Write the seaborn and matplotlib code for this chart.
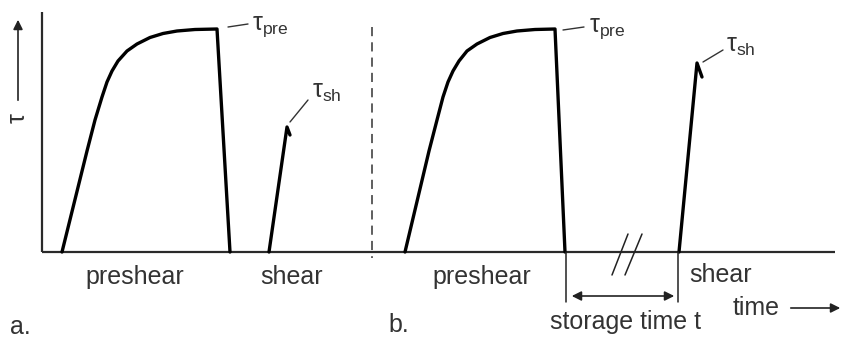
import matplotlib
matplotlib.use("Agg")
import matplotlib.pyplot as plt
import seaborn as sns
import pandas as pd

# ---- data (time axis in drawing units, tau in drawing units) ----
preshear_a_time = [62, 87, 95, 102, 107, 112, 118, 127, 137, 150, 163, 177, 195, 217, 230]
preshear_a_tau = [0, 101, 132, 155, 170, 181, 191, 201, 208, 214.5, 218.5, 221, 222.5, 223, 0]

preshear_b_time = [405, 429, 437, 443, 448, 453, 459, 467, 477, 490, 503, 517, 535, 555, 565]
preshear_b_tau = [0, 101, 132, 155, 170, 181, 191, 201, 208, 214.5, 218.5, 221, 222.5, 223, 0]

shear_a_time = [269, 287, 290]
shear_a_tau = [0, 125, 117]

shear_b_time = [679, 697, 702]
shear_b_tau = [0, 189, 175]

phase_labels = ["preshear", "shear", "preshear", "shear"]
phase_label_time = [135, 292, 482, 721]
phase_label_tau = [-25, -25, -25, -23]

TXT = "#333333"

sns.set_theme(style="white")
plt.rcParams["font.family"] = ["Liberation Sans", "DejaVu Sans"]
plt.rcParams["mathtext.fontset"] = "custom"
plt.rcParams["mathtext.rm"] = "Liberation Sans"
plt.rcParams["mathtext.it"] = "Liberation Sans"

fig = plt.figure(figsize=(8.44, 3.39), dpi=100)
ax = fig.add_axes([0, 0, 1, 1])
ax.set_xlim(0, 844)
ax.set_ylim(-87, 252)
ax.axis("off")

# axes lines
ax.plot([42, 42], [240, 0], color="#2a2a2a", lw=1.6, solid_capstyle="butt")
ax.plot([42, 835], [0, 0], color="#2a2a2a", lw=1.6, solid_capstyle="butt")

# curves
for t, v in [(preshear_a_time, preshear_a_tau), (preshear_b_time, preshear_b_tau),
             (shear_a_time, shear_a_tau), (shear_b_time, shear_b_tau)]:
    df = pd.DataFrame({"time": t, "tau": v})
    sns.lineplot(data=df, x="time", y="tau", sort=False, estimator=None,
                 color="black", lw=2.4, ax=ax)
for line in ax.lines:
    line.set_solid_joinstyle("round")
ax.set_xlabel("")
ax.set_ylabel("")

# dashed separator
ax.plot([372, 372], [225, -6], color="#333333", lw=1.1, ls=(0, (6, 4)))

# leader lines to labels
ax.plot([228, 248], [225, 228], color=TXT, lw=1.0)
ax.plot([563, 584], [222, 225], color=TXT, lw=1.0)
ax.plot([290, 308], [130, 152], color=TXT, lw=1.0)
ax.plot([703, 723], [190, 202], color=TXT, lw=1.0)

ax.text(252, 225, r"τ$_{\mathregular{pre}}$", fontsize=18, color=TXT, va="center", ha="left")
ax.text(589, 223, r"τ$_{\mathregular{pre}}$", fontsize=18, color=TXT, va="center", ha="left")
ax.text(312, 160, r"τ$_{\mathregular{sh}}$", fontsize=18, color=TXT, va="center", ha="left")
ax.text(726, 206, r"τ$_{\mathregular{sh}}$", fontsize=18, color=TXT, va="center", ha="left")

# tau axis arrow and label
ax.annotate("", xy=(18, 235), xytext=(18, 149),
            arrowprops=dict(arrowstyle="-|>", color="#222222", lw=1.2, mutation_scale=14))
ax.text(18, 134, "τ", fontsize=18, color=TXT, rotation=90, ha="center", va="center")

# storage-time markers
ax.plot([566, 566], [0, -50], color="#222222", lw=1.1)
ax.plot([678, 678], [0, -50], color="#222222", lw=1.1)
ax.annotate("", xy=(569, -44), xytext=(677, -44),
            arrowprops=dict(arrowstyle="<|-|>", color="#222222", lw=1.2, mutation_scale=14))
ax.plot([612, 628], [-23, 18], color="#222222", lw=1.1)
ax.plot([625, 642], [-23, 18], color="#222222", lw=1.1)

# time arrow
ax.annotate("", xy=(843, -56), xytext=(788, -56),
            arrowprops=dict(arrowstyle="-|>", color="#222222", lw=1.2, mutation_scale=14))
ax.text(756, -56, "time", fontsize=18, color=TXT, ha="center", va="center")
ax.text(625, -70, "storage time t", fontsize=18, color=TXT, ha="center", va="center")

for lab, x, y in zip(phase_labels, phase_label_time, phase_label_tau):
    ax.text(x, y, lab, fontsize=18, color=TXT, ha="center", va="center")

ax.text(10, -75, "a.", fontsize=18, color=TXT, ha="left", va="center")
ax.text(388, -73, "b.", fontsize=18, color=TXT, ha="left", va="center")

fig.savefig("out.png", dpi=100)
